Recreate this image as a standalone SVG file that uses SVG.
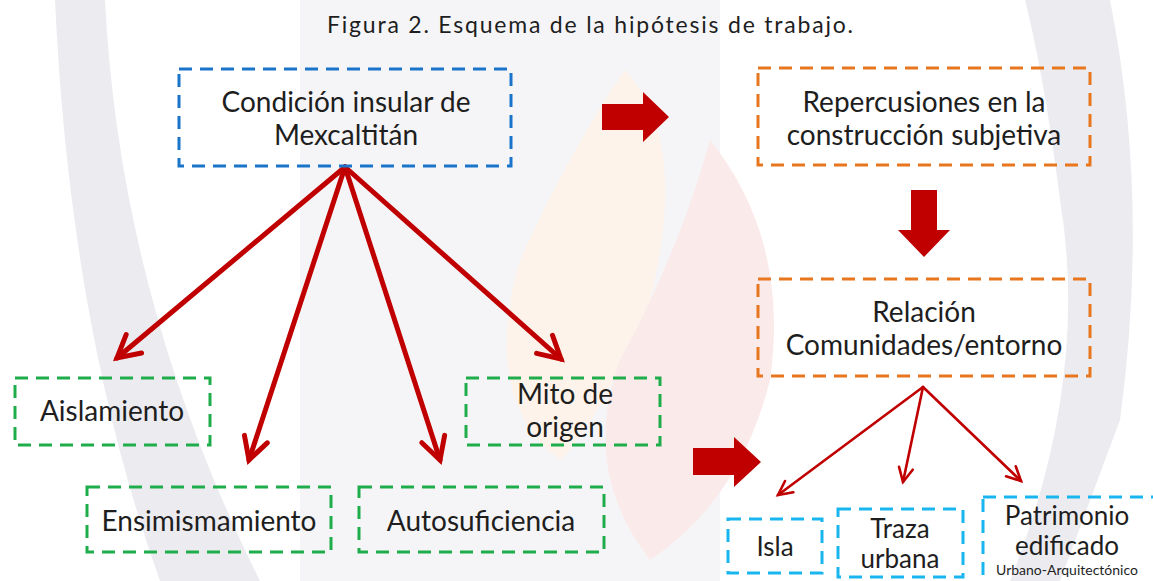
<svg xmlns="http://www.w3.org/2000/svg" width="1153" height="581" viewBox="0 0 1153 581">
<defs>
<style>
.t{font-family:Lato,"Open Sans","Liberation Sans",sans-serif;fill:#1e1e1e;text-anchor:middle}
.big{font-size:28px}
.mid{font-size:26px}
.box{fill:none;stroke-width:3;stroke-dasharray:13 8}
.blue{stroke:#1a74c9}
.orange{stroke:#e8761e}
.green{stroke:#1fad4c}
.cyan{stroke:#19b5ee}
.thick{stroke:#c00000;stroke-width:5;fill:none;stroke-linecap:round}
.thin{stroke:#c00000;stroke-width:2.6;fill:none;stroke-linecap:round}
.block{fill:#c00000}
</style>
<marker id="hThick" markerUnits="userSpaceOnUse" markerWidth="40" markerHeight="40" viewBox="-30 -20 40 40" refX="0" refY="0" orient="auto">
<path d="M-22,-12 L0,0 L-22,12" fill="none" stroke="#c00000" stroke-width="5" stroke-linecap="round" stroke-linejoin="miter"/>
</marker>
<marker id="hThin" markerUnits="userSpaceOnUse" markerWidth="30" markerHeight="30" viewBox="-20 -15 30 30" refX="0" refY="0" orient="auto">
<path d="M-14,-7 L0,0 L-14,7" fill="none" stroke="#c00000" stroke-width="2.6" stroke-linecap="round"/>
</marker>
</defs>
<g id="background">
<rect width="1153" height="581" fill="#ffffff"/>
<rect x="300" y="0" width="420" height="581" fill="#f5f5f7"/>
<path d="M55,0 L105,0 Q120,300 260,581 L160,581 Q70,330 55,0 Z" fill="#ececf0"/>
<path d="M1025,0 L1110,0 Q1150,200 1120,420 L1060,581 L1010,581 Q1090,380 1060,200 Q1045,80 1025,0 Z" fill="#ececf0"/>
<path d="M625,70 Q690,140 650,300 Q600,420 560,460 Q480,400 520,260 Q570,150 625,70 Z" fill="#fdf3ea"/>
<path d="M710,140 Q790,240 770,380 Q740,500 650,560 Q580,470 620,360 Q680,250 710,140 Z" fill="#fbeaea"/>
</g>
<text class="t" x="590" y="33" font-size="23" textLength="526" lengthAdjust="spacing">Figura 2. Esquema de la hipótesis de trabajo.</text>
<g id="connectors">
<line class="thick" x1="345" y1="167" x2="117" y2="358" marker-end="url(#hThick)"/>
<line class="thick" x1="345" y1="167" x2="249" y2="460" marker-end="url(#hThick)"/>
<line class="thick" x1="345" y1="167" x2="440" y2="460" marker-end="url(#hThick)"/>
<line class="thick" x1="345" y1="167" x2="561" y2="359" marker-end="url(#hThick)"/>
<line class="thin" x1="923" y1="387" x2="778" y2="495" marker-end="url(#hThin)"/>
<line class="thin" x1="923" y1="387" x2="903" y2="482" marker-end="url(#hThin)"/>
<line class="thin" x1="923" y1="387" x2="1021" y2="481" marker-end="url(#hThin)"/>
<path class="block" d="M602,104 L643,104 L643,92 L669,117 L643,142 L643,130 L602,130 Z"/>
<path class="block" d="M911,190 L937,190 L937,230 L950,230 L924,257 L898,230 L911,230 Z"/>
<path class="block" d="M693,448 L734,448 L734,437 L761,462 L734,487 L734,475 L693,475 Z"/>
</g>
<g id="n-condicion">
<rect class="box blue" x="179" y="69" width="332" height="97"/>
<text class="t big" x="346" y="112">Condición insular de</text>
<text class="t big" x="346" y="145">Mexcaltitán</text>
</g>
<g id="n-repercusiones">
<rect class="box orange" x="758" y="68" width="332" height="97"/>
<text class="t big" x="924" y="112">Repercusiones en la</text>
<text class="t big" x="924" y="145">construcción subjetiva</text>
</g>
<g id="n-relacion">
<rect class="box orange" x="758" y="279" width="332" height="97"/>
<text class="t big" x="924" y="322">Relación</text>
<text class="t big" x="924" y="355">Comunidades/entorno</text>
</g>
<g id="n-aislamiento">
<rect class="box green" x="15" y="378" width="195" height="67"/>
<text class="t big" x="112" y="421">Aislamiento</text>
</g>
<g id="n-mito">
<rect class="box green" x="466" y="378" width="194" height="67"/>
<text class="t big" x="565" y="404">Mito de</text>
<text class="t big" x="565" y="437">origen</text>
</g>
<g id="n-ensimismamiento">
<rect class="box green" x="87" y="487" width="244" height="65"/>
<text class="t big" x="209" y="531">Ensimismamiento</text>
</g>
<g id="n-autosuficiencia">
<rect class="box green" x="359" y="487" width="245" height="65"/>
<text class="t big" x="481" y="531">Autosuficiencia</text>
</g>
<g id="n-isla">
<rect class="box cyan" x="728" y="519" width="94" height="54"/>
<text class="t mid" x="775" y="556">Isla</text>
</g>
<g id="n-traza">
<rect class="box cyan" x="838" y="509" width="125" height="68"/>
<text class="t mid" x="900" y="538">Traza</text>
<text class="t mid" x="900" y="568">urbana</text>
</g>
<g id="n-patrimonio">
<rect class="box cyan" x="983" y="497" width="180" height="90"/>
<text class="t mid" x="1067" y="525">Patrimonio</text>
<text class="t mid" x="1067" y="555">edificado</text>
<text class="t" x="1067" y="575" font-size="14">Urbano-Arquitectónico</text>
</g>
</svg>
